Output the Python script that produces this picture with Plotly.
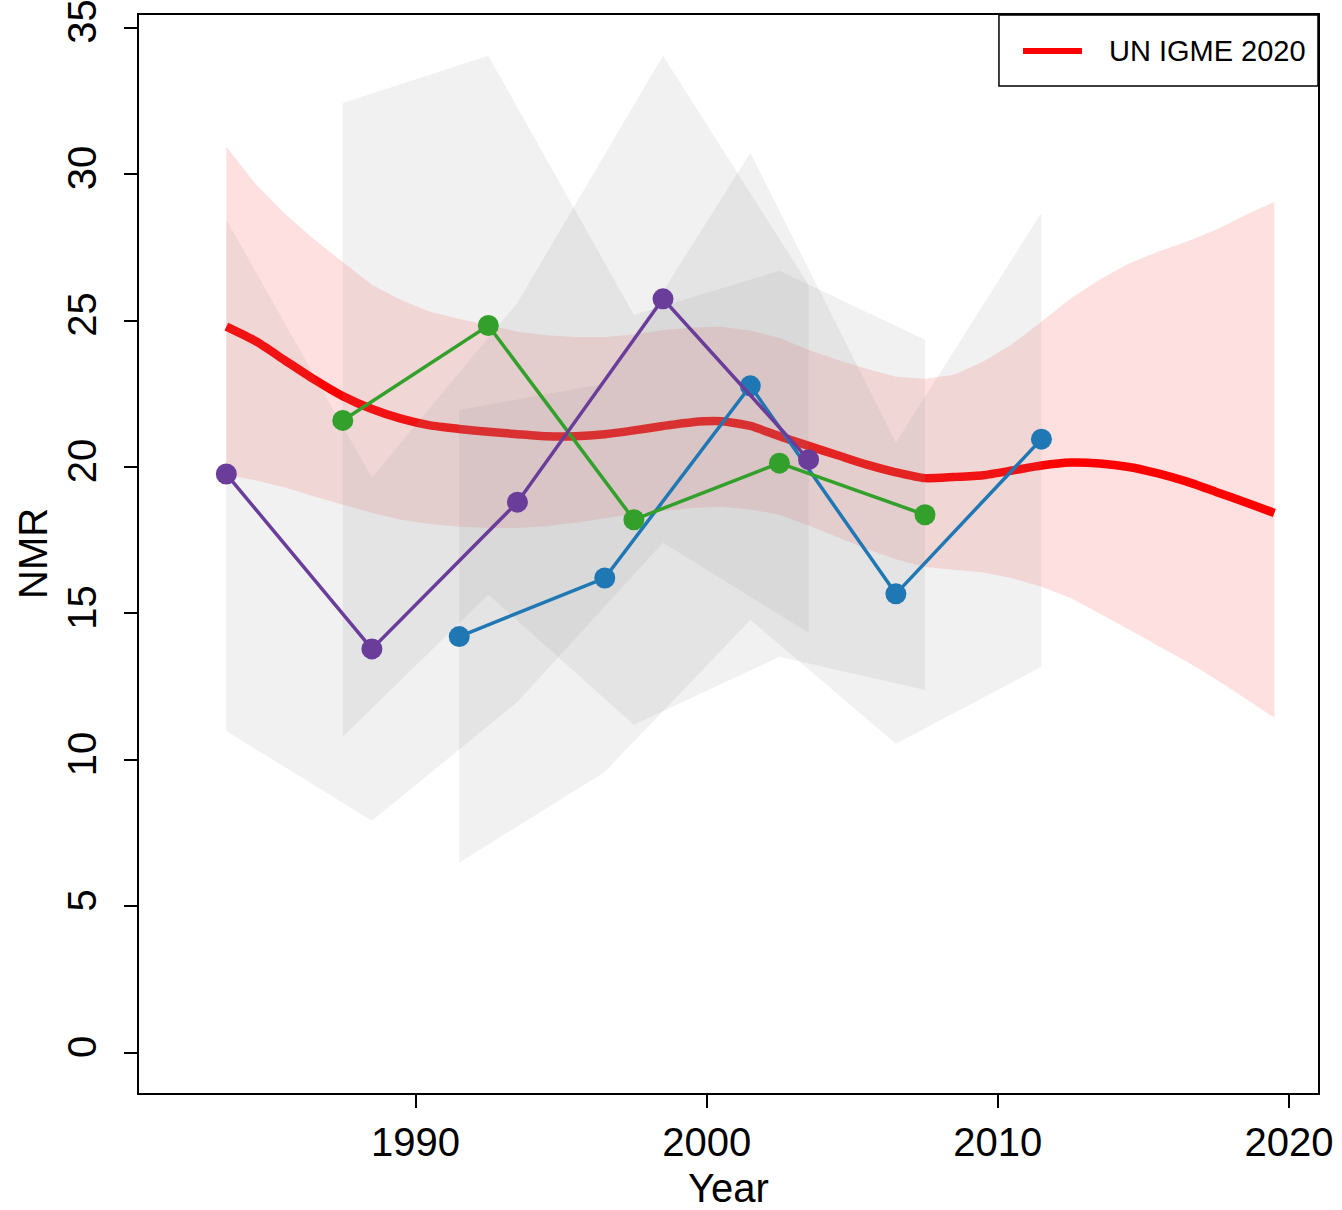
import plotly.graph_objects as go

# ---------------- data ----------------
igme_years = [1983.5 + i for i in range(37)]
igme_median = [24.79, 24.3, 23.65, 23.0, 22.42, 21.98, 21.65, 21.42, 21.3, 21.2,
               21.12, 21.05, 21.05, 21.12, 21.25, 21.4, 21.53, 21.56, 21.4, 21.05,
               20.72, 20.4, 20.08, 19.82, 19.62, 19.66, 19.72, 19.88, 20.05, 20.15,
               20.12, 20.0, 19.78, 19.5, 19.15, 18.8, 18.43]
igme_upper = [30.93, 29.67, 28.65, 27.78, 27.0, 26.22, 25.7, 25.3, 25.05, 24.85,
              24.62, 24.5, 24.44, 24.44, 24.52, 24.68, 24.76, 24.79, 24.66, 24.4,
              24.0, 23.65, 23.35, 23.08, 23.01, 23.15, 23.6, 24.2, 24.96, 25.75,
              26.4, 26.95, 27.35, 27.7, 28.1, 28.6, 29.05]
igme_lower = [19.73, 19.55, 19.3, 19.0, 18.71, 18.44, 18.2, 18.05, 17.96, 17.92,
              17.92, 17.98, 18.1, 18.25, 18.4, 18.5, 18.6, 18.64, 18.55, 18.37,
              18.0, 17.6, 17.2, 16.85, 16.59, 16.49, 16.4, 16.2, 15.91, 15.53,
              15.0, 14.45, 13.9, 13.35, 12.75, 12.1, 11.44]

purple_years = [1983.5, 1988.5, 1993.5, 1998.5, 2003.5]
purple_vals = [19.76, 13.79, 18.80, 25.74, 20.25]
purple_lower = [10.99, 7.92, 11.98, 17.41, 14.34]
purple_upper = [28.44, 19.63, 25.61, 34.04, 26.22]

green_years = [1987.5, 1992.5, 1997.5, 2002.5, 2007.5]
green_vals = [21.59, 24.83, 18.20, 20.13, 18.37]
green_lower = [10.79, 15.64, 11.20, 13.52, 12.39]
green_upper = [32.43, 34.04, 25.20, 26.70, 24.34]

blue_years = [1991.5, 1996.5, 2001.5, 2006.5, 2011.5]
blue_vals = [14.21, 16.21, 22.77, 15.67, 20.95]
blue_lower = [6.49, 9.59, 14.78, 10.55, 13.18]
blue_upper = [21.95, 22.84, 30.73, 20.83, 28.68]

x_ticks = [1990, 2000, 2010, 2020]
y_ticks = [0, 5, 10, 15, 20, 25, 30, 35]
legend_label = "UN IGME 2020"

# ---------------- styles ----------------
FONT = "Liberation Sans, Arial, Helvetica, sans-serif"
RED = "#FF0000"
RED_BAND = "rgba(255,0,0,0.12)"
GRAY_BAND = "rgba(150,150,150,0.13)"
PURPLE = "#6A3D9A"
GREEN = "#33A02C"
BLUE = "#1F78B4"

fig = go.Figure()


def band(xs, lo, hi, color):
    return go.Scatter(x=list(xs) + list(xs)[::-1], y=list(hi) + list(lo)[::-1],
                      fill="toself", fillcolor=color, mode="none",
                      line=dict(width=0), hoverinfo="skip", showlegend=False)


fig.add_trace(band(igme_years, igme_lower, igme_upper, RED_BAND))
fig.add_trace(go.Scatter(x=igme_years, y=igme_median, mode="lines",
                         line=dict(color=RED, width=8.5, shape="spline", smoothing=0.6),
                         showlegend=False, name=legend_label))

for xs, lo, hi in [(purple_years, purple_lower, purple_upper),
                   (green_years, green_lower, green_upper),
                   (blue_years, blue_lower, blue_upper)]:
    fig.add_trace(band(xs, lo, hi, GRAY_BAND))

for xs, ys, col in [(blue_years, blue_vals, BLUE),
                    (green_years, green_vals, GREEN),
                    (purple_years, purple_vals, PURPLE)]:
    fig.add_trace(go.Scatter(x=xs, y=ys, mode="lines+markers",
                             line=dict(color=col, width=3.5),
                             marker=dict(color=col, size=21),
                             showlegend=False))

axis_common = dict(showline=True, linecolor="black", linewidth=1.5, mirror=True,
                   ticks="outside", ticklen=13, tickwidth=1.5, tickcolor="black",
                   showgrid=False, zeroline=False, ticklabeloverflow="allow",
                   automargin=False,
                   tickfont=dict(family=FONT, size=40, color="black"))

fig.update_layout(
    width=1342, height=1210,
    margin=dict(l=139, r=24, t=15, b=117, autoexpand=False),
    paper_bgcolor="white", plot_bgcolor="white",
    showlegend=False,
    xaxis=dict(range=[1980.5, 2021.0], tickvals=x_ticks,
               ticktext=[str(v) for v in x_ticks], **axis_common),
    yaxis=dict(range=[-1.37, 35.43], tickvals=y_ticks, ticklabelstandoff=12,
               ticktext=[str(v) for v in y_ticks], tickangle=-90, **axis_common),
)

# axis titles
fig.add_annotation(text="Year", xref="paper", yref="paper", x=0.5, y=-0.088,
                   xanchor="center", yanchor="middle", showarrow=False,
                   font=dict(family=FONT, size=40, color="black"))
fig.add_annotation(text="NMR", xref="paper", yref="paper", x=-0.0899, y=0.5,
                   xanchor="center", yanchor="middle", textangle=-90, showarrow=False,
                   font=dict(family=FONT, size=40, color="black"))

# legend (drawn manually to match the boxed R-style legend)
fig.add_shape(type="rect", xref="paper", yref="paper", x0=0.7294, x1=1.0,
              y0=0.9341, y1=1.0, line=dict(color="black", width=1.5),
              fillcolor="white", layer="above")
fig.add_shape(type="line", xref="paper", yref="paper", x0=0.7498, x1=0.7998,
              y0=0.9666, y1=0.9666, line=dict(color=RED, width=6), layer="above")
fig.add_annotation(text=legend_label, xref="paper", yref="paper", x=0.8210, y=0.9666,
                   xanchor="left", yanchor="middle", showarrow=False,
                   font=dict(family=FONT, size=29, color="black"))

# remove the default 8px page margin so the figure fills the window exactly
fig.write_html("out.html", config={"displayModeBar": False},
               post_script="document.body.style.margin='0';")
